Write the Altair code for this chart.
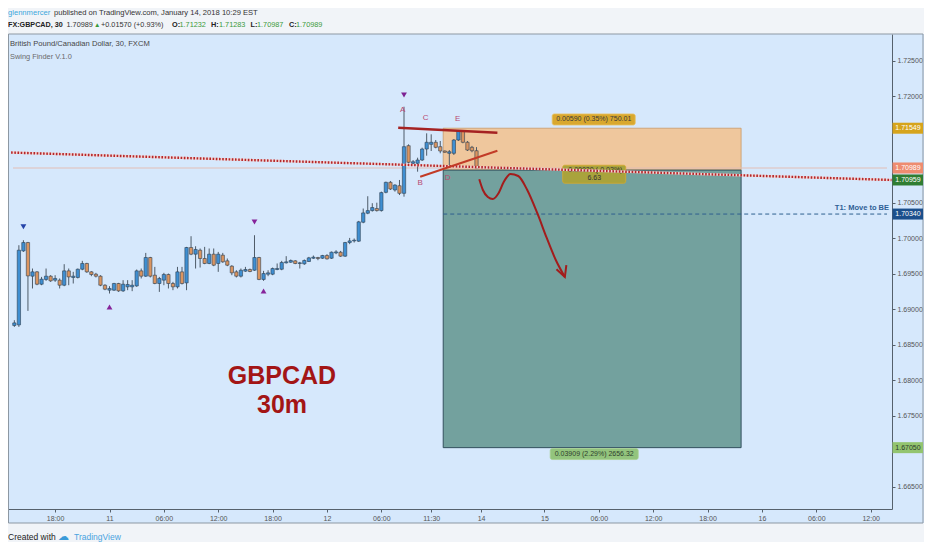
import json
import altair as alt
import pandas as pd

FONT = "Liberation Sans"

# ---------------- data ----------------
bar_index = list(range(-9, 94))
opens = [1.68771, 1.68779, 1.69821, 1.69939, 1.69465, 1.69526, 1.69352, 1.69419, 1.69465,
         1.69409, 1.69409, 1.69338, 1.69540, 1.69447, 1.69447, 1.69563, 1.69644, 1.69526,
         1.69493, 1.69465, 1.69338, 1.69268, 1.69268, 1.69362, 1.69258, 1.69315, 1.69315,
         1.69328, 1.69540, 1.69465, 1.69728, 1.69479, 1.69362, 1.69409, 1.69489, 1.69362,
         1.69315, 1.69526, 1.69371, 1.69869, 1.69775, 1.69831, 1.69714, 1.69644, 1.69775,
         1.69644, 1.69761, 1.69681, 1.69606, 1.69526, 1.69465, 1.69536, 1.69559, 1.69549,
         1.69728, 1.69419, 1.69493, 1.69493, 1.69559, 1.69563, 1.69653, 1.69662, 1.69681,
         1.69644, 1.69639, 1.69672, 1.69718, 1.69728, 1.69718, 1.69756, 1.69718, 1.69793,
         1.69803, 1.69747, 1.69939, 1.69962, 1.69958, 1.70225, 1.70352, 1.70389, 1.70418,
         1.70389, 1.70646, 1.70787, 1.70679, 1.70739, 1.70632, 1.71303, 1.71055, 1.71055,
         1.71101, 1.71256, 1.71322, 1.71351, 1.71289, 1.71228, 1.71196, 1.71196, 1.71383,
         1.71510, 1.71351, 1.71280, 1.71232]
highs = [1.68845, 1.69901, 1.69972, 1.69948, 1.69573, 1.69536, 1.69455, 1.69573, 1.69479,
         1.69479, 1.69433, 1.69634, 1.69573, 1.69526, 1.69573, 1.69681, 1.69653, 1.69536,
         1.69512, 1.69479, 1.69352, 1.69324, 1.69371, 1.69371, 1.69409, 1.69409, 1.69409,
         1.69559, 1.69573, 1.69793, 1.69737, 1.69596, 1.69455, 1.69512, 1.69502, 1.69385,
         1.69596, 1.69596, 1.69878, 1.70028, 1.69887, 1.69855, 1.69878, 1.69855, 1.69855,
         1.69807, 1.69793, 1.69714, 1.69620, 1.69549, 1.69573, 1.69596, 1.69573, 1.70042,
         1.69737, 1.69540, 1.69549, 1.69587, 1.69644, 1.69681, 1.69747, 1.69700, 1.69690,
         1.69667, 1.69700, 1.69737, 1.69756, 1.69737, 1.69765, 1.69775, 1.69812, 1.69831,
         1.69821, 1.69948, 1.70004, 1.69996, 1.70244, 1.70418, 1.70591, 1.70493, 1.70500,
         1.70656, 1.70796, 1.70806, 1.70759, 1.70820, 1.71852, 1.71322, 1.71101, 1.71134,
         1.71275, 1.71477, 1.71463, 1.71383, 1.71369, 1.71235, 1.71242, 1.71397, 1.71524,
         1.71524, 1.71369, 1.71300, 1.71283]
lows = [1.68751, 1.68751, 1.69807, 1.68976, 1.69292, 1.69338, 1.69338, 1.69399, 1.69385,
        1.69385, 1.69292, 1.69324, 1.69338, 1.69362, 1.69433, 1.69549, 1.69512, 1.69465,
        1.69447, 1.69324, 1.69268, 1.69221, 1.69258, 1.69244, 1.69244, 1.69268, 1.69254,
        1.69315, 1.69433, 1.69455, 1.69447, 1.69352, 1.69244, 1.69338, 1.69292, 1.69268,
        1.69292, 1.69348, 1.69268, 1.69761, 1.69573, 1.69587, 1.69634, 1.69634, 1.69606,
        1.69526, 1.69653, 1.69606, 1.69479, 1.69447, 1.69447, 1.69526, 1.69521, 1.69540,
        1.69409, 1.69399, 1.69465, 1.69479, 1.69549, 1.69549, 1.69644, 1.69653, 1.69634,
        1.69573, 1.69625, 1.69667, 1.69709, 1.69690, 1.69709, 1.69700, 1.69709, 1.69775,
        1.69737, 1.69737, 1.69916, 1.69939, 1.69948, 1.70211, 1.70338, 1.70375, 1.70375,
        1.70375, 1.70632, 1.70679, 1.70656, 1.70608, 1.70585, 1.71055, 1.71031, 1.70937,
        1.71087, 1.71162, 1.71228, 1.71266, 1.71196, 1.71205, 1.71007, 1.71172, 1.71369,
        1.71337, 1.71228, 1.71210, 1.70987]
closes = [1.68807, 1.69831, 1.69939, 1.69469, 1.69526, 1.69352, 1.69423, 1.69465, 1.69399,
          1.69433, 1.69338, 1.69540, 1.69455, 1.69465, 1.69563, 1.69644, 1.69526, 1.69489,
          1.69465, 1.69338, 1.69282, 1.69292, 1.69362, 1.69258, 1.69352, 1.69348, 1.69338,
          1.69540, 1.69465, 1.69728, 1.69465, 1.69362, 1.69433, 1.69489, 1.69362, 1.69315,
          1.69526, 1.69362, 1.69869, 1.69775, 1.69841, 1.69714, 1.69644, 1.69775, 1.69620,
          1.69775, 1.69667, 1.69620, 1.69512, 1.69465, 1.69549, 1.69559, 1.69531, 1.69728,
          1.69419, 1.69502, 1.69512, 1.69573, 1.69573, 1.69658, 1.69667, 1.69686, 1.69644,
          1.69653, 1.69686, 1.69723, 1.69733, 1.69714, 1.69756, 1.69709, 1.69803, 1.69807,
          1.69747, 1.69939, 1.69962, 1.69972, 1.70230, 1.70356, 1.70389, 1.70432, 1.70389,
          1.70642, 1.70787, 1.70693, 1.70749, 1.70632, 1.71289, 1.71069, 1.71077, 1.71101,
          1.71256, 1.71351, 1.71351, 1.71280, 1.71228, 1.71210, 1.71218, 1.71383, 1.71510,
          1.71351, 1.71242, 1.71232, 1.70989]

xtick_idx = [0, 12, 24, 36, 48, 60, 72, 83, 94, 108, 120, 132, 144, 156, 168, 180]
xtick_lbl = ["18:00", "11", "06:00", "12:00", "18:00", "12", "06:00", "11:30",
             "14", "15", "06:00", "12:00", "18:00", "16", "06:00", "12:00"]
# price ticks left visible by the coloured price tags
ytick_vals = [1.665, 1.675, 1.680, 1.685, 1.690, 1.695, 1.700,
              1.705, 1.720, 1.725]

# position tool
POS_START, POS_END = 85.65, 151.4
ENTRY, STOP, TARGET, T1 = 1.70959, 1.71549, 1.67050, 1.70340
LAST = 1.70989

trend_idx = [-9.72, 184.6]
trend_price = [1.71206, 1.70820]

pattern_top_idx = [75.72, 97.61]
pattern_top_price = [1.71556, 1.71486]
pattern_bot_idx = [80.57, 97.61]
pattern_bot_price = [1.70866, 1.71232]

letters = ["A", "B", "C", "D", "E"]
letter_idx = [76.7, 80.57, 81.8, 86.65, 88.83]
letter_price = [1.71806, 1.70773, 1.71693, 1.70848, 1.71679]

marker_idx = [-7, 12, 44, 46, 77]
marker_price = [1.70162, 1.69031, 1.70228, 1.69256, 1.72017]
marker_shape = ["triangle-down", "triangle-up", "triangle-down", "triangle-up", "triangle-down"]
marker_color = ["#2443a8", "#86249a", "#86249a", "#86249a", "#7d2192"]

arrow_idx = [93.61, 94.41, 95.5, 96.59, 97.89, 99.0, 100.5, 102.2, 104.2, 106.4, 108.5, 110.5, 112.5]
arrow_price = [1.70830, 1.70679, 1.70580, 1.70552, 1.70637, 1.70791, 1.70904, 1.70876,
               1.70679, 1.70355, 1.70003, 1.69693, 1.69453]
head_idx = [110.65, 112.5, 112.83]
head_price = [1.69562, 1.69453, 1.69622]

big_text = ["GBPCAD", "30m"]
big_idx = [50.07, 50.07]
big_price = [1.68060, 1.67652]

tag_text = ["1.71549", "1.70989", "1.70959", "1.70340", "1.67050"]
tag_pos = [1.71549, 1.70989, 1.70820, 1.70340, 1.67050]
tag_bg = ["#d6a41c", "#ee8c70", "#2f7d32", "#1b4f8c", "#93c46f"]
tag_fg = ["#ffffff", "#ffffff", "#ffffff", "#ffffff", "#2b3b2b"]

# ---------------- layout ----------------
W, H = 884, 475
PAD = {"left": 0, "top": 26, "right": 32, "bottom": 33}
X_DOMAIN = [-9.3, 183.6]
Y_DOMAIN = [1.66186, 1.72876]
xs = alt.Scale(domain=X_DOMAIN, nice=False, zero=False)
ys = alt.Scale(domain=Y_DOMAIN, nice=False, zero=False)

UP, DOWN, WICK = "#3f8fd2", "#db9560", "#4e5b68"
one = alt.Data(values=[{}])

label_expr = f"{json.dumps(xtick_lbl)}[indexof({json.dumps(xtick_idx)}, datum.value)]"
xaxis = alt.Axis(values=xtick_idx, labelExpr=label_expr, title=None, grid=False,
                 domainColor="#56616c", tickColor="#56616c", tickSize=3,
                 labelColor="#555555", labelFontSize=7, labelFont=FONT, labelPadding=2,
                 labelOverlap=False, labelFlush=False)
yaxis = alt.Axis(orient="right", values=ytick_vals, format=".5f", title=None, grid=False,
                 domainColor="#56616c", tickColor="#56616c", tickSize=3,
                 labelColor="#555555", labelFontSize=7, labelFont=FONT, labelPadding=2,
                 labelOverlap=False)


def X(field):
    return alt.X(field, scale=xs, axis=xaxis)


def Y(field):
    return alt.Y(field, scale=ys, axis=yaxis)


def ptext(txt, px, py, color, size=7.6, weight="normal", align="left"):
    return alt.Chart(one).mark_text(text=txt, align=align, baseline="middle", fontSize=size,
                                    fontWeight=weight, color=color, font=FONT).encode(
        x=alt.value(px), y=alt.value(py))


layers = []

# header / footer bands and panel border
layers.append(alt.Chart(one).mark_rect(fill="#f1f4f8").encode(
    x=alt.value(0), x2=alt.value(W + PAD["right"]), y=alt.value(-PAD["top"]), y2=alt.value(0)))
layers.append(alt.Chart(one).mark_rect(fill="#f1f4f8").encode(
    x=alt.value(0), x2=alt.value(W + PAD["right"]), y=alt.value(H + 14), y2=alt.value(H + PAD["bottom"])))
layers.append(alt.Chart(one).mark_rect(fill="#d6e8fc", fillOpacity=0, stroke="#8d98a3", strokeWidth=1).encode(
    x=alt.value(0.5), x2=alt.value(W + PAD["right"] - 1), y=alt.value(0), y2=alt.value(H + 14)))

# position tool
pos_df = pd.DataFrame({"x1": [POS_START], "x2": [POS_END], "entry": [ENTRY], "stop": [STOP],
                       "target": [TARGET], "t1": [T1], "xr": [X_DOMAIN[1]]})
layers.append(alt.Chart(pos_df).mark_rect(fill="#efc79d", stroke="#c99a68", strokeWidth=0.8).encode(
    x=X("x1:Q"), x2="x2:Q", y=Y("entry:Q"), y2="stop:Q"))
layers.append(alt.Chart(pos_df).mark_rect(fill="#73a19e", stroke="#33505e", strokeWidth=1).encode(
    x=X("x1:Q"), x2="x2:Q", y=Y("entry:Q"), y2="target:Q"))
layers.append(alt.Chart(pos_df).mark_rule(color="#2e5f8f", strokeDash=[4, 3], strokeWidth=1).encode(
    x=X("x1:Q"), x2="xr:Q", y=Y("t1:Q")))

# last price line
last_df = pd.DataFrame({"x1": [X_DOMAIN[0]], "x2": [X_DOMAIN[1]], "y": [LAST]})
layers.append(alt.Chart(last_df).mark_rule(color="#e2bdb5", strokeWidth=1.2).encode(
    x=X("x1:Q"), x2="x2:Q", y=Y("y:Q")))

# candles
candles = pd.DataFrame({"i": bar_index, "open": opens, "high": highs, "low": lows, "close": closes})
layers.append(alt.Chart(candles).mark_rule(color=WICK, strokeWidth=1).encode(
    x=X("i:Q"), y=Y("low:Q"), y2="high:Q"))
layers.append(alt.Chart(candles).mark_bar(size=3.3, stroke="#2f4050", strokeWidth=0.6).encode(
    x=X("i:Q"), y=Y("open:Q"), y2="close:Q",
    fill=alt.condition("datum.close >= datum.open", alt.value(UP), alt.value(DOWN))))

# position labels
pos_labels = [
    (["0.00590 (0.35%) 750.01"], 118.87, 1.71672, 83, 11, "#d9a82e", "#e8c060", "#3a3a3a"),
    (["-0.00030 (-0.02%)", "6.63"], 118.98, 1.70901, 63, 18, "#a9a33c", "#d8aa2a", "#333333"),
    (["0.03909 (2.29%) 2656.32"], 118.98, 1.66960, 88, 11, "#93c47d", "#a8d090", "#2f3f2f"),
]
for lines, cx, cy, bw, bh, bg, bd, fg in pos_labels:
    d = pd.DataFrame({"cx": [cx], "cy": [cy]})
    layers.append(alt.Chart(d).mark_rect(fill=bg, stroke=bd, strokeWidth=0.8, cornerRadius=2,
                                         xOffset=-bw / 2, x2Offset=bw / 2,
                                         yOffset=-bh / 2, y2Offset=bh / 2).encode(
        x=X("cx:Q"), x2="cx:Q", y=Y("cy:Q"), y2="cy:Q"))
    n = len(lines)
    for k, t in enumerate(lines):
        dy = (k - (n - 1) / 2) * 8
        layers.append(alt.Chart(d).mark_text(text=t, fontSize=7, font=FONT, color=fg,
                                             baseline="middle", dy=dy).encode(
            x=X("cx:Q"), y=Y("cy:Q")))

# red zig-zag trend line
trend_df = pd.DataFrame({"i": trend_idx, "p": trend_price})
layers.append(alt.Chart(trend_df).mark_line(color="#f2d2d2", strokeWidth=2.4, clip=True).encode(
    x=X("i:Q"), y=Y("p:Q")))
layers.append(alt.Chart(trend_df).mark_line(color="#b3262a", strokeWidth=2.4, strokeDash=[1.6, 1.6],
                                            clip=True).encode(x=X("i:Q"), y=Y("p:Q")))

# T1 text
t1_df = pd.DataFrame({"y": [T1]})
layers.append(alt.Chart(t1_df).mark_text(text="T1:  Move to BE", align="right", baseline="middle",
                                         fontSize=7.5, fontWeight="bold", font=FONT, color="#2e5f95",
                                         dy=-6).encode(x=alt.value(W - 3), y=Y("y:Q")))

# pattern lines
layers.append(alt.Chart(pd.DataFrame({"i": pattern_top_idx, "p": pattern_top_price})).mark_line(
    color="#a52222", strokeWidth=2.4).encode(x=X("i:Q"), y=Y("p:Q")))
layers.append(alt.Chart(pd.DataFrame({"i": pattern_bot_idx, "p": pattern_bot_price})).mark_line(
    color="#c23b27", strokeWidth=2).encode(x=X("i:Q"), y=Y("p:Q")))

# hand-drawn arrow
arrow_df = pd.DataFrame({"i": arrow_idx, "p": arrow_price, "k": list(range(len(arrow_idx)))})
layers.append(alt.Chart(arrow_df).mark_line(color="#a31c1c", strokeWidth=2, interpolate="monotone").encode(
    x=X("i:Q"), y=Y("p:Q"), order="k:Q"))
head_df = pd.DataFrame({"i": head_idx, "p": head_price, "k": [0, 1, 2]})
layers.append(alt.Chart(head_df).mark_line(color="#a31c1c", strokeWidth=2).encode(
    x=X("i:Q"), y=Y("p:Q"), order="k:Q"))

# letters
let_df = pd.DataFrame({"t": letters, "i": letter_idx, "p": letter_price})
layers.append(alt.Chart(let_df).mark_text(fontSize=8, font=FONT, color="#b84a72", baseline="middle").encode(
    x=X("i:Q"), y=Y("p:Q"), text="t:N"))

# swing markers
mk_df = pd.DataFrame({"i": marker_idx, "p": marker_price, "s": marker_shape, "c": marker_color})
layers.append(alt.Chart(mk_df).mark_point(filled=True, size=34, opacity=1).encode(
    x=X("i:Q"), y=Y("p:Q"), shape=alt.Shape("s:N", scale=None), fill=alt.Fill("c:N", scale=None)))

# big title text
big_df = pd.DataFrame({"t": big_text, "i": big_idx, "p": big_price})
layers.append(alt.Chart(big_df).mark_text(fontSize=25, fontWeight="bold", font=FONT, color="#a31515",
                                          baseline="middle").encode(x=X("i:Q"), y=Y("p:Q"), text="t:N"))

# price tags on the right axis
tag_df = pd.DataFrame({"t": tag_text, "p": tag_pos, "bg": tag_bg, "fg": tag_fg})
layers.append(alt.Chart(tag_df).mark_rect(yOffset=-5.5, y2Offset=5.5).encode(
    x=alt.value(W + 0.5), x2=alt.value(W + PAD["right"] - 1), y=Y("p:Q"), y2="p:Q",
    fill=alt.Fill("bg:N", scale=None)))
layers.append(alt.Chart(tag_df).mark_text(fontSize=7, font=FONT, baseline="middle", align="center").encode(
    x=alt.value(W + 16), y=Y("p:Q"), text="t:N", color=alt.Color("fg:N", scale=None)))

# header texts
layers += [
    ptext("glennmercer", 0, -21, "#3aa7dc"),
    ptext("published on TradingView.com, January 14, 2018 10:29 EST", 46, -21, "#333333"),
    ptext("FX:GBPCAD, 30", 0, -9, "#222222", size=7.2, weight="bold"),
    ptext("1.70989", 58.5, -9, "#333333", size=7.3),
    ptext("▲", 86, -9, "#3b9a3b", size=6.5),
    ptext("+0.01570 (+0.93%)", 93, -9, "#333333", size=7.3),
    ptext("O:", 164, -9, "#222222", size=7.3, weight="bold"),
    ptext("1.71232", 171.5, -9, "#3b9a3b", size=7.3),
    ptext("H:", 203, -9, "#222222", size=7.3, weight="bold"),
    ptext("1.71283", 211, -9, "#3b9a3b", size=7.3),
    ptext("L:", 242.5, -9, "#222222", size=7.3, weight="bold"),
    ptext("1.70987", 249, -9, "#3b9a3b", size=7.3),
    ptext("C:", 281, -9, "#222222", size=7.3, weight="bold"),
    ptext("1.70989", 288, -9, "#3b9a3b", size=7.3),
    ptext("British Pound/Canadian Dollar, 30, FXCM", 2, 10, "#454545", size=7.6),
    ptext("Swing Finder V.1.0", 2, 23, "#6a6a6a", size=7.4),
    ptext("Created with", 0, H + 28, "#222222", size=8.5),
    ptext("☁", 50, H + 28, "#3a9ad8", size=11),
    ptext("TradingView", 66, H + 28, "#4aa3df", size=8.5),
]

chart = alt.layer(*layers).properties(
    width=W, height=H, padding=PAD, autosize=alt.AutoSizeParams(type="none")
).configure(background="#d6e8fc").configure_view(stroke=None)

chart.save("out.html", embed_options={"renderer": "svg", "actions": False})
